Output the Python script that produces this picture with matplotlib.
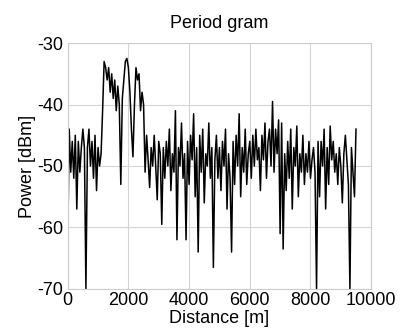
import numpy as np
import matplotlib
matplotlib.use("Agg")
import matplotlib.pyplot as plt

plt.rcParams['font.family'] = ['Liberation Sans', 'DejaVu Sans']
plt.rcParams['axes.unicode_minus'] = False

# distance step 50 m, 0 .. 9500 m
distance = np.arange(0, 9501, 50)

power = [
    -63, -44, -51, -46, -52, -45, -57, -46, -51, -47,
    -44, -47, -70, -47, -44, -50, -46, -52, -45, -54,
    -47, -50, -48, -41, -33, -34, -36, -34, -38, -35,
    -39, -36, -41, -37, -40, -53, -39, -36, -33, -32.5,
    -34, -38, -44, -48.5, -40, -34, -36, -35, -41, -38,
    -40, -51, -45, -49, -53.5, -47, -50, -45, -50, -55.5,
    -46, -48, -59.5, -47, -52, -46, -50, -44, -54, -48,
    -51, -41, -62, -47, -50, -43, -52, -48, -62, -46,
    -53, -45, -49, -41.5, -55, -47, -64, -45, -51, -44,
    -56, -48, -50, -43, -52, -47, -66.5, -49, -45, -52,
    -47, -54, -46, -50, -44, -57, -48, -52, -64, -46,
    -53, -45, -50, -41.5, -55, -47, -51, -44, -53, -48,
    -46, -52, -45, -50, -44, -49, -47, -54, -45, -49,
    -43, -52, -46, -44, -50, -39.5, -51, -44, -48, -42.5,
    -61, -43, -63.5, -48, -54, -46, -52, -44, -57, -47,
    -50, -43.5, -55, -48, -51, -45, -53, -48, -51, -46,
    -52, -49, -47, -51, -70, -46, -55, -46, -50, -44,
    -57, -47, -53, -43.5, -49, -46, -51, -48, -53, -47,
    -50, -56, -48, -45, -49, -53, -70, -47, -51, -55,
    -44,
]

fig = plt.figure(figsize=(4.03, 3.34), dpi=100)
ax = fig.add_axes([0.168, 0.135, 0.753, 0.736])

ax.plot(distance, power, color='black', linewidth=1.1)

ax.set_xlim(0, 10000)
ax.set_ylim(-70, -30)
ax.set_xticks([0, 2000, 4000, 6000, 8000, 10000])
ax.set_yticks([-70, -60, -50, -40, -30])
ax.grid(True, color='#d4d4d4', linewidth=0.8)
for s in ax.spines.values():
    s.set_color('#cccccc')
ax.tick_params(length=0, labelsize=13, pad=3)
ax.tick_params(axis='x', pad=2)

ax.set_title('Period gram', fontsize=13, pad=11)
ax.set_xlabel('Distance [m]', fontsize=13, labelpad=1)
ax.set_ylabel('Power [dBm]', fontsize=13, labelpad=1)

fig.savefig('out.png', dpi=100)
